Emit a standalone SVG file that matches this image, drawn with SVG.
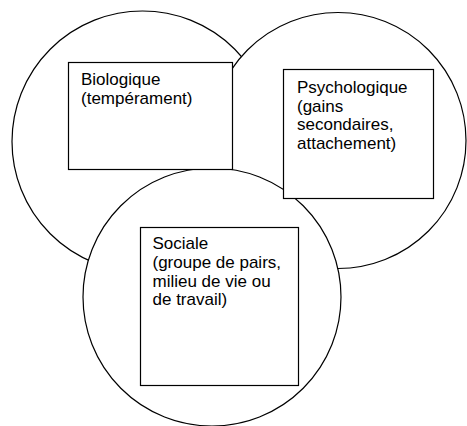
<svg xmlns="http://www.w3.org/2000/svg" width="467" height="426" viewBox="0 0 467 426">
<style>
.c{fill:#fff;stroke:#000;stroke-width:1.2}
.r{fill:#fff;stroke:#000;stroke-width:1.2}
.t{font-family:"Liberation Sans",Arial,sans-serif;font-size:17px;fill:#000}
</style>
<rect width="467" height="426" fill="#fff"/>
<g id="circles">
<circle id="circle-bio" class="c" cx="142.5" cy="141.5" r="130.5"/>
<circle id="circle-psy" class="c" cx="338" cy="140.5" r="128"/>
<circle id="circle-soc" class="c" cx="212" cy="297" r="129"/>
</g>
<g id="connectors"></g>
<g id="node-bio">
<rect class="r" x="68.5" y="62.5" width="164" height="107"/>
<text class="t" x="81" y="85">Biologique</text>
<text class="t" x="81" y="104">(tempérament)</text>
</g>
<g id="node-psy">
<rect class="r" x="283.5" y="69.5" width="150" height="129"/>
<text class="t" x="297" y="92.5">Psychologique</text>
<text class="t" x="297" y="111.5">(gains</text>
<text class="t" x="297" y="130">secondaires,</text>
<text class="t" x="297" y="148.5">attachement)</text>
</g>
<g id="node-soc">
<rect class="r" x="140.5" y="227.5" width="158" height="158"/>
<text class="t" x="152.5" y="249">Sociale</text>
<text class="t" x="152.5" y="268">(groupe de pairs,</text>
<text class="t" x="152.5" y="286.5">milieu de vie ou</text>
<text class="t" x="152.5" y="305">de travail)</text>
</g>
</svg>
